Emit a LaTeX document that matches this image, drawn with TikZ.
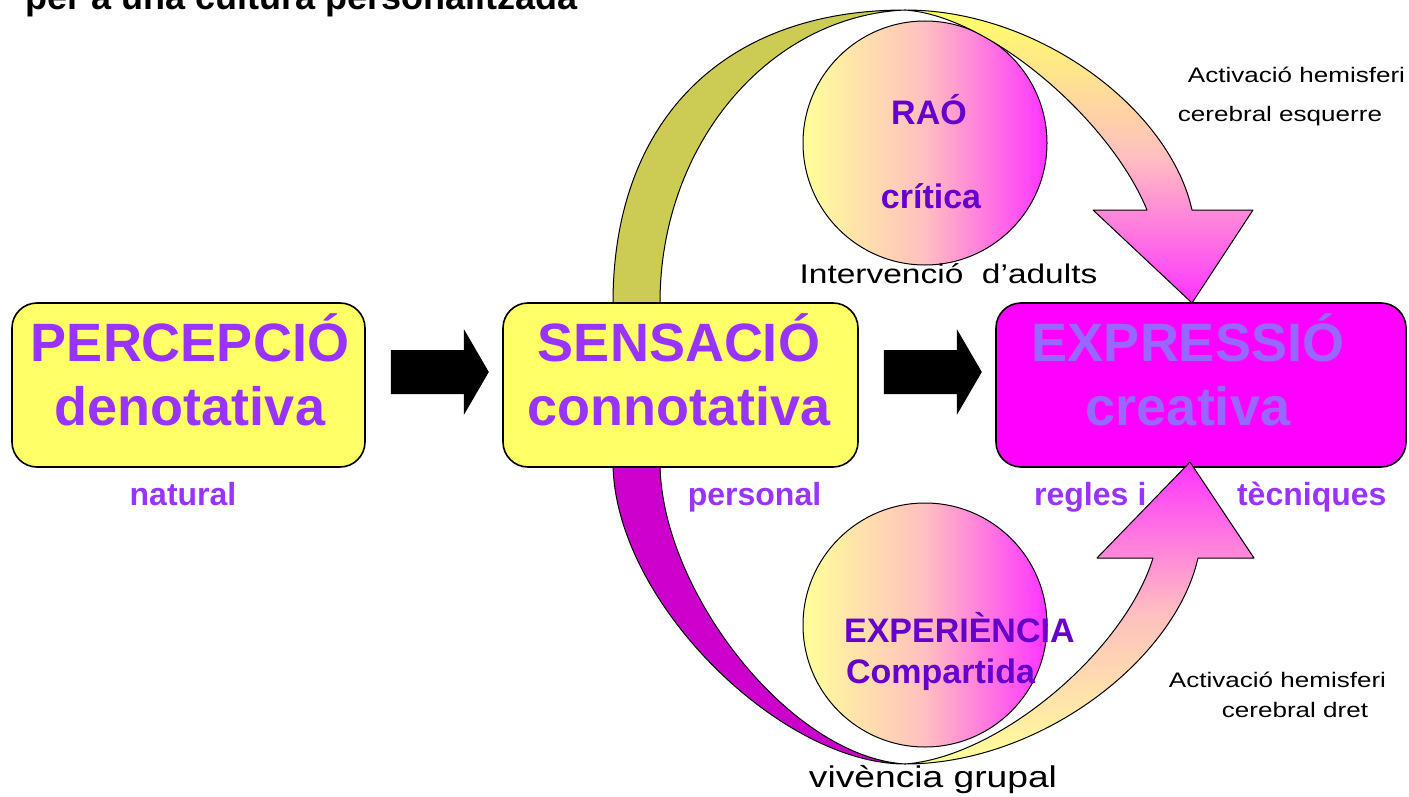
\documentclass[tikz,border=0pt]{standalone}
\usepackage{fontspec}
\setmainfont{Liberation Sans}
\newfontfamily\widefont[FakeStretch=1.24]{Liberation Sans}
\usetikzlibrary{calc}

\definecolor{colLila}{HTML}{9933FF}
\definecolor{colLilaClar}{HTML}{9966FF}
\definecolor{colMorat}{HTML}{6600CC}
\definecolor{colGroc}{HTML}{FFFF66}
\definecolor{colGrocPal}{HTML}{FFFF99}
\definecolor{colOliva}{HTML}{CCCC55}
\definecolor{colFucsia}{HTML}{FF00FF}
\definecolor{colRosa}{HTML}{FF33FF}
\definecolor{colPressec}{HTML}{FFBFC0}
\definecolor{colMagenta}{HTML}{CC00CC}

\tikzset{
  caixa/.style={draw, line width=0.8pt, rounded corners=12.5pt, minimum height=82pt, inner sep=0pt},
  gran/.style={font=\bfseries\fontsize{27}{32}\selectfont, align=center, text=colLila},
  etiq/.style={font=\bfseries\fontsize{16}{19}\selectfont, text=colLila, anchor=base},
  bola/.style={circle, draw, line width=0.5pt, minimum size=122pt, inner sep=0pt, left color=colGrocPal, right color=colRosa, middle color=colPressec},
  dins/.style={font=\bfseries\fontsize{17}{20}\selectfont, text=colMorat, anchor=base},
  nota/.style={font=\widefont\fontsize{10.5}{12}\selectfont, anchor=base},
  banda/.style={draw, line width=0.5pt, line join=round},
  fletxa/.style={fill=black}
}

\begin{document}
\begin{tikzpicture}[x=0.5pt,y=-0.5pt]
\fill[white] (0,0) rectangle (1409,797);
\useasboundingbox (0,0) rectangle (1409,797);

% les dues boles
\node[bola] (rao) at (925,143) {};
\node[dins] (raoA) at (929,125) {RAÓ};
\node[dins] (raoB) at (931,208) {crítica};
\node[bola] (exper) at (925,625) {};
\node[dins, anchor=base west] (experA) at (837,642) {EXPERIÈNCIA};
\node[dins, anchor=base west] (experB) at (839,683) {Compartida};

% bandes de darrere
\draw[banda, fill=colOliva] (613,303) .. controls (613,122) and (722,10) .. (905,10) .. controls (770,16) and (660,143) .. (660,303) -- cycle;
\draw[banda, fill=colMagenta] (613,462) .. controls (613,600) and (780,764) .. (905,764) .. controls (790,757) and (660,590) .. (660,462) -- cycle;

% caixes
\node[caixa, fill=colGroc, minimum width=176.5pt] (perc) at (188.5,385) {};
\node[caixa, fill=colGroc, minimum width=177.5pt] (sens) at (680.5,385) {};
\node[caixa, fill=colFucsia, minimum width=205pt] (expr) at (1201,385) {};
\node[gran] (percT) at (190,370) {PERCEPCIÓ\\denotativa};
\node[gran] (sensT) at (679,370) {SENSACIÓ\\connotativa};
\node[gran, text=colLilaClar] (exprT) at (1188,370) {EXPRESSIÓ\\creativa};

\fill[fletxa] ($(perc.east)+(25,-35)$) -- ++(73,0) -- ++(0,-21) -- ++(25,43) -- ++(-25,43) -- ++(0,-21) -- ++(-73,0) -- cycle;
\fill[fletxa] ($(sens.east)+(25,-35)$) -- ++(73,0) -- ++(0,-21) -- ++(25,43) -- ++(-25,43) -- ++(0,-21) -- ++(-73,0) -- cycle;

\node[etiq] (natural) at (183,505) {natural};
\node[etiq] (personal) at (754.5,505) {personal};
\node[etiq, anchor=base west] (regles) at (1027,505) {regles};
\node[etiq] (conj) at (1142,505) {i};
\node[etiq, anchor=base west] (tecniques) at (1230,505) {tècniques};

% bandes de davant amb punta
\draw[banda, top color=colGroc, bottom color=colRosa, middle color=colPressec] (905,10) .. controls (1040,10) and (1170,110) .. (1192,210) -- (1253,210) -- (1192,303) -- (1093,210) -- (1147,210) .. controls (1110,120) and (990,16) .. (905,10) -- cycle;
\draw[banda, bottom color=colGrocPal, top color=colRosa, middle color=colPressec] (905,764) .. controls (1040,764) and (1175,660) .. (1198,558) -- (1254,558) -- (1190,462) -- (1097,558) -- (1153,558) .. controls (1125,650) and (1000,757) .. (905,764) -- cycle;

\node[nota, font=\widefont\fontsize{13.5}{16}\selectfont] (interv) at (948.5,283) {Intervenció\ \ d’adults};
\node[nota, font=\widefont\fontsize{15}{18}\selectfont] (viv) at (933,787) {vivència grupal};
\node[nota] (actE1) at (1296.5,83) {Activació hemisferi};
\node[nota] (actE2) at (1280,122) {cerebral esquerre};
\node[nota] (actD1) at (1277.5,687) {Activació hemisferi};
\node[nota] (actD2) at (1295,717) {cerebral dret};

\node[font=\bfseries\fontsize{18}{22}\selectfont, anchor=base west] (titol) at (18,10) {per a una cultura personalitzada};
\end{tikzpicture}
\end{document}
